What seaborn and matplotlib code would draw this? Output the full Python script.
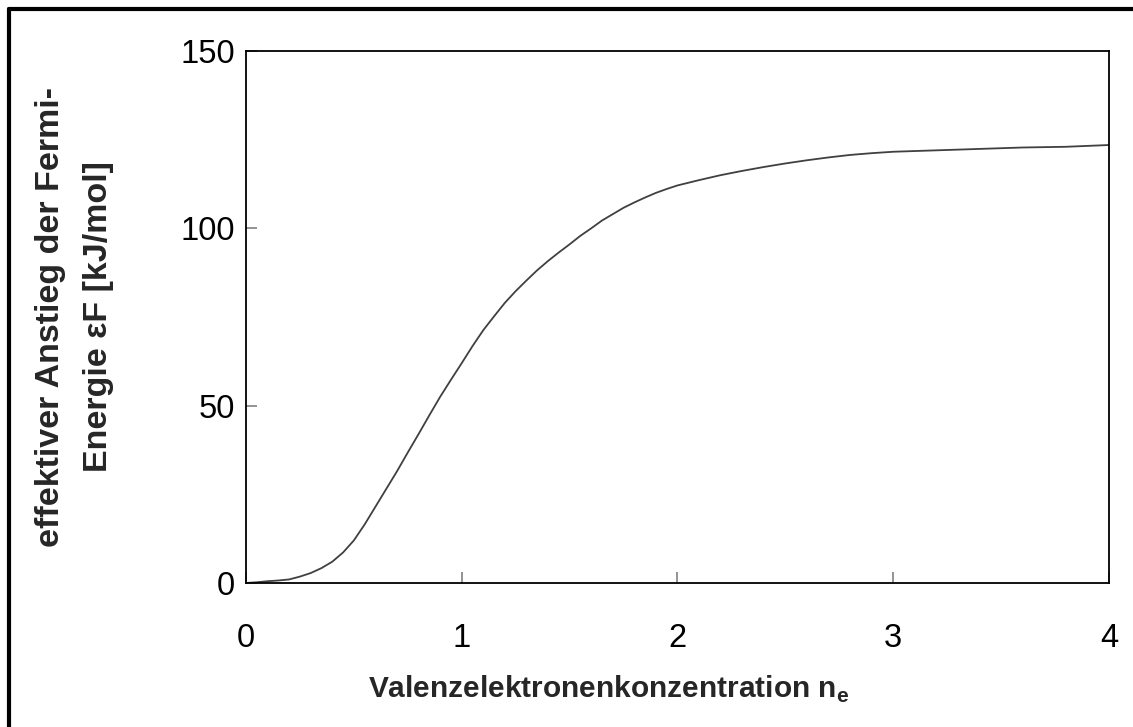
import matplotlib
matplotlib.use("Agg")
import matplotlib.pyplot as plt
from matplotlib.lines import Line2D
import seaborn as sns
import pandas as pd

# data
n_e = [0.0, 0.05, 0.1, 0.15, 0.2, 0.25, 0.3, 0.35, 0.4, 0.45, 0.5, 0.55, 0.6, 0.65, 0.7,
       0.75, 0.8, 0.85, 0.9, 0.95, 1.0, 1.05, 1.1, 1.15, 1.2, 1.25, 1.3, 1.35, 1.4, 1.45,
       1.5, 1.55, 1.6, 1.65, 1.7, 1.75, 1.8, 1.85, 1.9, 1.95, 2.0, 2.1, 2.2, 2.3, 2.4,
       2.5, 2.6, 2.7, 2.8, 2.9, 3.0, 3.2, 3.4, 3.6, 3.8, 4.0]
eps_f = [0.0, 0.2, 0.5, 0.7, 1.0, 1.8, 2.8, 4.2, 6.0, 8.6, 12.0, 16.5, 21.5, 26.5, 31.5,
         36.8, 42.0, 47.3, 52.5, 57.3, 62.0, 66.8, 71.3, 75.2, 79.0, 82.3, 85.3, 88.2, 90.8, 93.2,
         95.5, 97.9, 100.0, 102.2, 104.0, 105.8, 107.3, 108.7, 110.0, 111.1, 112.1, 113.6, 115.0, 116.2, 117.3,
         118.3, 119.2, 120.0, 120.7, 121.2, 121.6, 122.0, 122.4, 122.8, 123.0, 123.5]
x_ticks = [0, 1, 2, 3, 4]
y_ticks = [0, 50, 100, 150]

df = pd.DataFrame({"n_e": n_e, "eps": eps_f})

sns.set_style("ticks")
plt.rcParams["font.family"] = ["Liberation Sans", "DejaVu Sans"]
plt.rcParams["mathtext.fontset"] = "custom"
plt.rcParams["mathtext.rm"] = "Liberation Sans"
plt.rcParams["mathtext.bf"] = "Liberation Sans:bold"

fig = plt.figure(figsize=(11.33, 7.27), dpi=100)
ax = fig.add_axes([0.2171, 0.1981, 0.9788 - 0.2171, 0.9298 - 0.1981])

sns.lineplot(data=df, x="n_e", y="eps", ax=ax, color="#404040", linewidth=1.3)

ax.set_xlim(0, 4)
ax.set_ylim(0, 150)
ax.set_xticks(x_ticks)
ax.set_yticks(y_ticks)
ax.tick_params(axis="both", direction="in", length=8, width=1.2, color="#808080",
               labelsize=23.5, labelcolor="black")
ax.tick_params(axis="x", pad=29)
ax.tick_params(axis="y", pad=8)
for s in ax.spines.values():
    s.set_visible(True)
    s.set_color("black")
    s.set_linewidth(1.3)

ax.set_xlabel(r"Valenzelektronenkonzentration n$_\mathbf{e}$", fontsize=21.5,
              fontweight="bold")
ax.xaxis.set_label_coords(0.4206, -0.17)

ax.set_ylabel("effektiver Anstieg der Fermi-\nEnergie εF [kJ/mol]", fontsize=24.5,
              fontweight="bold", linespacing=1.7)
ax.yaxis.label.set_va("center")
ax.yaxis.set_label_coords(-0.199, 0.5)

# outer chart frame (left and top edges)
fig.add_artist(Line2D([9 / 1133, 9 / 1133], [0, 1 - 9 / 727], transform=fig.transFigure,
                      color="black", linewidth=3))
fig.add_artist(Line2D([9 / 1133, 1], [1 - 9 / 727, 1 - 9 / 727], transform=fig.transFigure,
                      color="black", linewidth=3))

fig.savefig("out.png", dpi=100)
